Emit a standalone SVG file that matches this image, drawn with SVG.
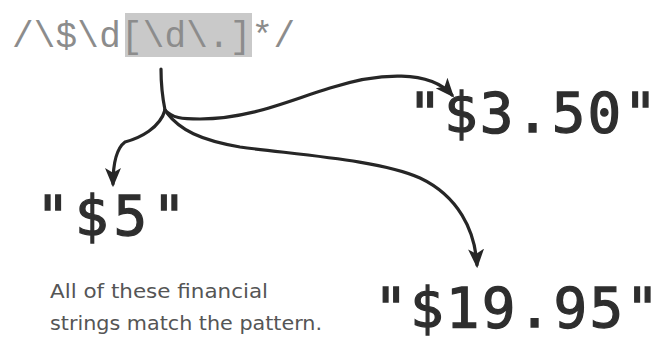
<svg xmlns="http://www.w3.org/2000/svg" width="670" height="340" viewBox="0 0 670 340">
<defs>
<style>
.rx{font-family:"Liberation Mono","Courier New",monospace;font-size:36px;fill:#8c8c8c}
.big{font-family:"DejaVu Sans Mono",monospace;font-size:56px;fill:#2e2e2e;stroke:#2e2e2e;stroke-width:1.3px;letter-spacing:2.2px}
.note{font-family:"DejaVu Sans Condensed","DejaVu Sans",sans-serif;font-size:19px;fill:#555}
.con{fill:none;stroke:#262626;stroke-width:3.2;stroke-linecap:round}
</style>
<marker id="ah" viewBox="0 0 12 10" refX="10" refY="5" markerWidth="6" markerHeight="5" orient="auto" markerUnits="strokeWidth">
<path d="M0,0 L12,5 L0,10 L3,5 z" fill="#262626"/>
</marker>
</defs>
<rect width="670" height="340" fill="#fff"/>
<g id="pattern">
<rect x="125" y="13" width="127" height="44" fill="#c9c9c9"/>
<text class="rx" x="12" y="47" textLength="283" lengthAdjust="spacing">/\$\d[\d\.]*/</text>
</g>
<g id="connectors">
<path class="con" d="M161,69 C161,90 163,100 165,110"/>
<path class="con" d="M165,110 C160,128 140,138 125,142 C117,148 113,160 113,184" marker-end="url(#ah)"/>
<path class="con" d="M165,110 C172,118 182,119 200,119 C250,119 290,100 330,88 C380,72 430,70 452,95" marker-end="url(#ah)"/>
<path class="con" d="M167,113 C180,130 200,140 240,147 C300,155 380,160 420,178 C458,196 475,230 477,265" marker-end="url(#ah)"/>
</g>
<g id="n350"><text class="big" x="408" y="132">"$3.50"</text></g>
<g id="n5"><text class="big" x="36" y="235" style="letter-spacing:5px">"$5"</text></g>
<g id="n1995"><text class="big" x="374" y="327">"$19.95"</text></g>
<g id="note">
<text class="note" x="50" y="298" textLength="218" lengthAdjust="spacingAndGlyphs">All of these financial</text>
<text class="note" x="50" y="330" textLength="272" lengthAdjust="spacingAndGlyphs">strings match the pattern.</text>
</g>
</svg>
